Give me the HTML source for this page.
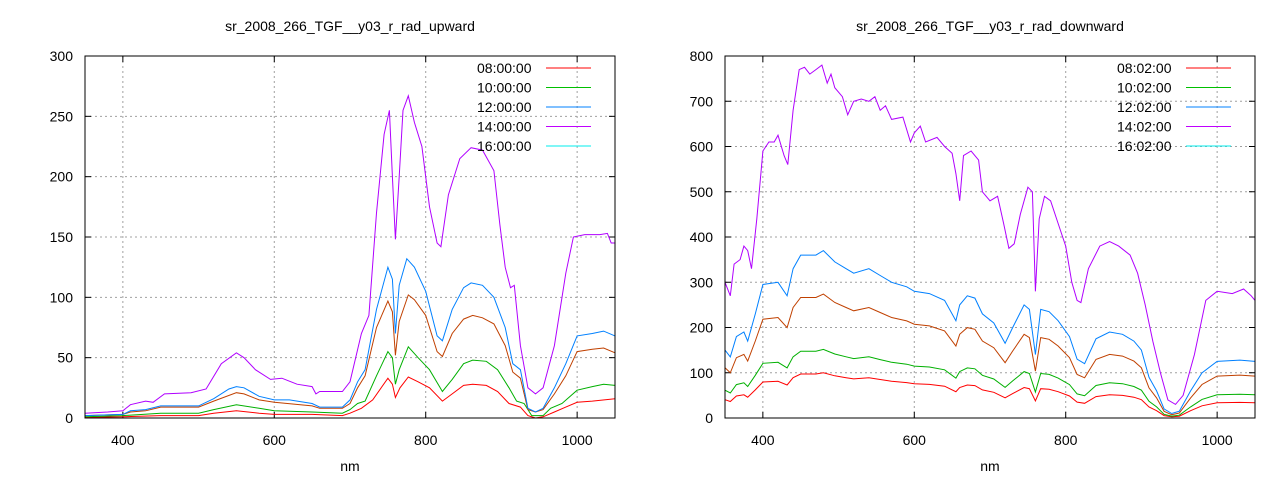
<!DOCTYPE html>
<html><head><meta charset="utf-8"><style>
html,body{margin:0;padding:0;background:#fff;}
svg{display:block;font-family:"Liberation Sans",sans-serif;}
</style></head><body>
<svg id="s" width="1280" height="480" viewBox="0 0 1280 480" xmlns="http://www.w3.org/2000/svg"></svg>
<script>
const S=document.getElementById('s');let h='';
function panel(x0,x1,y0,y1,ymax,ystep,title,sfx,series){
  const X=w=>x0+(w-350)/700*(x1-x0), Y=v=>y1-v/ymax*(y1-y0);
  h+=`<text x="${(x0+x1)/2}" y="31" font-size="14" text-anchor="middle">${title}</text>`;
  for(let w=400;w<=1000;w+=200){const x=X(w);
    h+=`<line x1="${x}" y1="${y0}" x2="${x}" y2="${y1}" stroke="#a0a0a0" stroke-dasharray="2,3"/>`;
    h+=`<line x1="${x}" y1="${y1}" x2="${x}" y2="${y1-6}" stroke="#000"/><line x1="${x}" y1="${y0}" x2="${x}" y2="${y0+6}" stroke="#000"/>`;
    h+=`<text x="${x}" y="${y1+27}" font-size="14" text-anchor="middle">${w}</text>`;}
  for(let v=0;v<=ymax;v+=ystep){const y=Y(v);
    if(v>0&&v<ymax)h+=`<line x1="${x0}" y1="${y}" x2="${x1}" y2="${y}" stroke="#a0a0a0" stroke-dasharray="2,3"/>`;
    h+=`<line x1="${x0}" y1="${y}" x2="${x0+6}" y2="${y}" stroke="#000"/><line x1="${x1}" y1="${y}" x2="${x1-6}" y2="${y}" stroke="#000"/>`;
    h+=`<text x="${x0-12}" y="${y+5}" font-size="14" text-anchor="end">${v}</text>`;}
  h+=`<text x="${(x0+x1)/2}" y="471" font-size="14" text-anchor="middle">nm</text>`;
  series.forEach(([c,p])=>{h+=`<polyline fill="none" stroke="${c}" stroke-width="1" points="${p.map(q=>X(q[0]).toFixed(1)+','+Y(q[1]).toFixed(1)).join(' ')}"/>`;});
  h+=`<rect x="${x0}" y="${y0}" width="${x1-x0}" height="${y1-y0}" fill="none" stroke="#000"/>`;
  const lc=['#ff0000','#00c000','#0080ff','#c000ff','#00eeee'];
  const lt=['08','10','12','14','16'];
  for(let i=0;i<5;i++){const y=68+i*19.5;
    h+=`<text x="${x1-138}" y="${y+5}" font-size="14">${lt[i]}${sfx}</text>`;
    h+=`<line x1="${x1-69}" y1="${y}" x2="${x1-24}" y2="${y}" stroke="${lc[i]}"/>`;}
}
const L={
pu:[[350,4],[380,5],[400,6],[410,11],[430,14],[440,13],[455,20],[490,21],[510,24],[530,45],[550,54],[560,50],[575,40],[595,32],[610,33],[630,28],[650,26],[655,20],[660,22],[690,22],[700,30],[715,70],[725,85],[735,170],[745,235],[752,255],[756,200],[760,148],[765,200],[770,255],[777,267],[785,245],[795,225],[805,175],[815,145],[820,142],[830,185],[845,215],[860,224],[875,222],[890,205],[898,160],[905,125],[912,108],[917,110],[925,60],[935,25],[945,20],[955,25],[970,60],[985,120],[995,150],[1010,152],[1030,152],[1040,153],[1045,145],[1050,145]],
bl:[[350,2],[400,3],[410,6],[430,7],[450,10],[500,10],[520,16],[540,24],[550,26],[560,25],[580,18],[600,15],[620,15],[650,12],[660,9],[690,9],[700,15],[710,30],[720,40],[735,90],[750,125],[756,115],[760,70],[765,110],[775,132],[785,125],[800,105],[815,68],[822,64],[835,90],[850,108],[860,112],[875,110],[890,100],[905,75],[915,45],[925,40],[935,8],[945,5],[955,8],[970,25],[985,45],[1000,68],[1020,70],[1035,72],[1050,68]],
br:[[350,2],[400,3],[410,5],[430,6],[450,9],[500,9],[520,14],[550,21],[560,20],[580,15],[600,13],[650,10],[660,8],[690,8],[700,12],[710,25],[720,35],[735,75],[750,97],[756,88],[760,52],[765,80],[777,102],[785,98],[800,85],[815,55],[822,51],[835,70],[850,82],[862,85],[875,83],[890,78],[905,60],[915,38],[925,33],[935,7],[945,5],[955,7],[970,20],[985,35],[1000,55],[1020,57],[1035,58],[1050,54]],
gr:[[350,1],[400,2],[450,4],[500,4],[520,7],[550,11],[580,8],[600,6],[650,5],[690,4],[700,7],[710,12],[720,14],[735,35],[750,55],[756,50],[760,28],[765,40],[777,59],[790,50],[805,40],[822,22],[835,32],[850,45],[862,48],[880,47],[895,40],[910,25],[920,14],[930,12],[940,2],[955,2],[965,8],[980,12],[1000,23],[1020,26],[1035,28],[1050,27]],
re:[[350,0.5],[400,1],[450,2],[500,2],[520,4],[550,6],[580,4],[600,3],[650,3],[690,2],[700,4],[715,8],[730,15],[750,33],[756,28],[760,17],[766,25],[777,34],[790,30],[805,25],[822,14],[835,20],[850,27],[862,28],[880,27],[895,22],[910,12],[925,9],[935,2],[945,0],[955,1],[970,5],[985,9],[1000,13],[1020,14],[1050,16]]};
panel(85,615,56,418,300,50,'sr_2008_266_TGF__y03_r_rad_upward',':00:00',
 [['#ff0000',L.re],['#00b000',L.gr],['#c04000',L.br],['#0080ff',L.bl],['#b000ff',L.pu]]);
const Rp=[[350,300],[357,270],[362,340],[370,350],[375,380],[380,370],[385,330],[392,440],[400,590],[408,610],[415,610],[420,625],[428,580],[433,560],[440,680],[448,770],[455,775],[462,760],[470,770],[478,780],[485,740],[490,760],[495,730],[505,710],[512,670],[520,700],[530,705],[540,700],[548,710],[555,680],[562,690],[570,660],[585,665],[595,610],[600,630],[608,645],[615,610],[630,620],[640,600],[650,585],[655,540],[660,480],[665,580],[675,590],[685,570],[690,500],[700,480],[710,490],[718,430],[725,375],[732,385],[740,450],[750,510],[756,500],[760,280],[765,440],[772,490],[780,480],[790,430],[800,380],[808,300],[815,260],[820,255],[830,330],[845,380],[858,390],[870,380],[885,360],[895,320],[905,250],[915,170],[925,100],[935,40],[945,30],[955,50],[970,140],[985,260],[1000,280],[1020,275],[1035,285],[1045,270],[1050,260]];
const Rb=[[350,150],[357,135],[365,180],[375,190],[380,170],[390,230],[400,295],[420,300],[432,270],[440,330],[450,360],[470,360],[480,370],[495,345],[510,330],[520,320],[540,330],[555,315],[570,300],[590,290],[600,280],[620,275],[640,260],[655,215],[660,250],[670,270],[680,265],[690,230],[705,210],[720,165],[730,200],[745,250],[752,240],[760,140],[767,240],[778,235],[790,215],[805,180],[815,130],[825,120],[840,175],[858,190],[875,185],[890,170],[900,150],[910,90],[920,60],[930,20],[940,10],[950,15],[965,60],[980,100],[1000,125],[1030,128],[1050,125]];
const sc=k=>Rb.map(q=>[q[0],q[1]*k]);
panel(725,1255,56,418,800,100,'sr_2008_266_TGF__y03_r_rad_downward',':02:00',
 [['#ff0000',sc(0.27)],['#00b000',sc(0.41)],['#c04000',sc(0.74)],['#0080ff',Rb],['#b000ff',Rp]]);
S.innerHTML=h;
</script>
</body></html>
